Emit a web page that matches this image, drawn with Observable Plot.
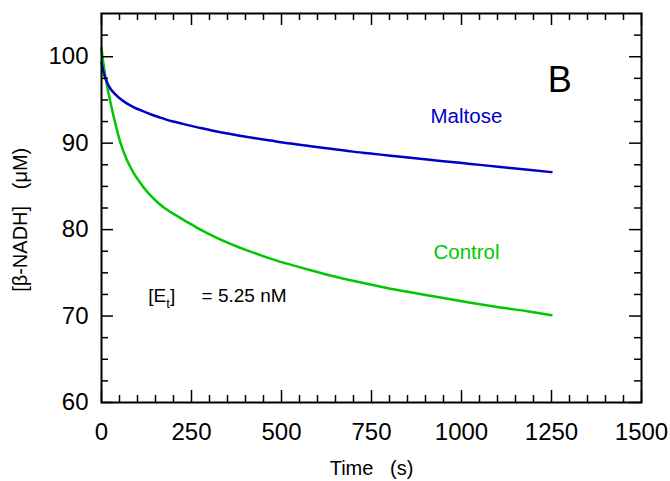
<!DOCTYPE html>
<html><head><meta charset="utf-8">
<script src="https://cdn.jsdelivr.net/npm/d3@7"></script>
<script src="https://cdn.jsdelivr.net/npm/@observablehq/plot@0.6"></script>
<style>
body{margin:0;background:#fff}
svg{font-family:"Liberation Sans",Arial,sans-serif}
</style>
</head><body><div id="chart"></div>
<script>
const time    = [0, 5, 10, 17, 25, 40, 53, 70, 90, 115, 136, 160, 182, 205, 229, 250, 275, 303, 358, 414, 469, 525, 581, 636, 692, 747, 803, 858, 942, 1025, 1108, 1192, 1250];
const maltose = [99.3, 98.3, 97.6, 96.9, 96.3, 95.6, 95.1, 94.6, 94.15, 93.7, 93.35, 93.0, 92.7, 92.45, 92.2, 92.0, 91.75, 91.5, 91.05, 90.65, 90.3, 89.95, 89.65, 89.35, 89.05, 88.8, 88.55, 88.3, 87.95, 87.6, 87.25, 86.9, 86.65];
const control = [101.0, 99.3, 97.9, 96.3, 94.7, 92.0, 90.0, 88.1, 86.5, 85.0, 83.95, 83.0, 82.3, 81.7, 81.1, 80.6, 80.0, 79.4, 78.35, 77.45, 76.65, 75.95, 75.3, 74.7, 74.15, 73.65, 73.15, 72.75, 72.15, 71.55, 71.0, 70.5, 70.1];
const xTicks = [0, 250, 500, 750, 1000, 1250, 1500];
const yTicks = [60, 70, 80, 90, 100];
const xMinor = [50,100,150,200,300,350,400,450,550,600,650,700,800,850,900,950,1050,1100,1150,1200,1300,1350,1400,1450];
const yMinor = [62.5,65,67.5,72.5,75,77.5,82.5,85,87.5,92.5,95,97.5,102.5];

const blue = "#0000c8", green = "#00c800";
const W = 670, H = 481, mL = 101, mR = 29, mT = 13, mB = 79;
const fw = W - mL - mR, fh = H - mT - mB;
const rowsM = time.map((t, i) => ({t, v: maltose[i]}));
const rowsC = time.map((t, i) => ({t, v: control[i]}));
const tk = {stroke: "black", strokeWidth: 1.5};

const chart = Plot.plot({
  width: W, height: H,
  marginLeft: mL, marginRight: mR, marginTop: mT, marginBottom: mB,
  x: {domain: [0, 1500]},
  y: {domain: [60, 105]},
  style: {fontFamily: "Liberation Sans, Arial, sans-serif", fontSize: "24px", background: "white"},
  marks: [
    Plot.line(rowsC, {x: "t", y: "v", stroke: green, strokeWidth: 2.5, curve: "monotone-x"}),
    Plot.line(rowsM, {x: "t", y: "v", stroke: blue, strokeWidth: 2.5, curve: "monotone-x"}),
    // inward ticks
    Plot.tickX(xTicks, {x: d => d, insetTop: fh - 12, ...tk}),
    Plot.tickX(xMinor, {x: d => d, insetTop: fh - 7, ...tk}),
    Plot.tickX(xTicks, {x: d => d, insetBottom: fh - 12, ...tk}),
    Plot.tickX(xMinor, {x: d => d, insetBottom: fh - 7, ...tk}),
    Plot.tickY(yTicks, {y: d => d, insetRight: fw - 12, ...tk}),
    Plot.tickY(yMinor, {y: d => d, insetRight: fw - 7, ...tk}),
    Plot.tickY(yTicks, {y: d => d, insetLeft: fw - 12, ...tk}),
    Plot.tickY(yMinor, {y: d => d, insetLeft: fw - 7, ...tk}),
    Plot.frame({stroke: "black", strokeWidth: 2}),
    Plot.axisX(xTicks, {tickSize: 0, tickPadding: 20, tickFormat: d => String(d), label: null}),
    Plot.axisY(yTicks, {tickSize: 0, tickPadding: 13, tickFormat: d => String(d), label: null}),
    Plot.text(["Time\u00a0\u00a0\u00a0(s)"], {frameAnchor: "bottom", dy: 66, fontSize: 20, lineAnchor: "middle"}),
    Plot.text(["[\u03b2-NADH]\u00a0\u00a0\u00a0(\u03bcM)"], {x: -225, y: 72.8, rotate: -90, fontSize: 20, textAnchor: "start", lineAnchor: "middle"}),
    Plot.text(["Maltose"], {x: 914, y: 93.1, textAnchor: "start", lineAnchor: "middle", fill: blue, fontSize: 20.5}),
    Plot.text(["Control"], {x: 922, y: 77.4, textAnchor: "start", lineAnchor: "middle", fill: green, fontSize: 20.5}),
    Plot.text(["B"], {x: 1273, y: 97.2, textAnchor: "middle", lineAnchor: "middle", fontSize: 36}),
    Plot.text(["ETLABEL"], {x: 130, y: 72.3, textAnchor: "start", lineAnchor: "middle", fontSize: 19})
  ]
});
document.getElementById("chart").appendChild(chart);

// subscript for [E_t]
d3.select(chart).selectAll("text").filter(function() { return this.textContent === "ETLABEL"; })
  .each(function() {
    const t = d3.select(this);
    t.text(null);
    t.append("tspan").text("[E");
    t.append("tspan").attr("font-size", 13).attr("dy", 6).text("t");
    t.append("tspan").attr("dy", -6).text("]\u00a0\u00a0\u00a0\u00a0\u00a0= 5.25 nM");
  });
</script>
</body></html>
